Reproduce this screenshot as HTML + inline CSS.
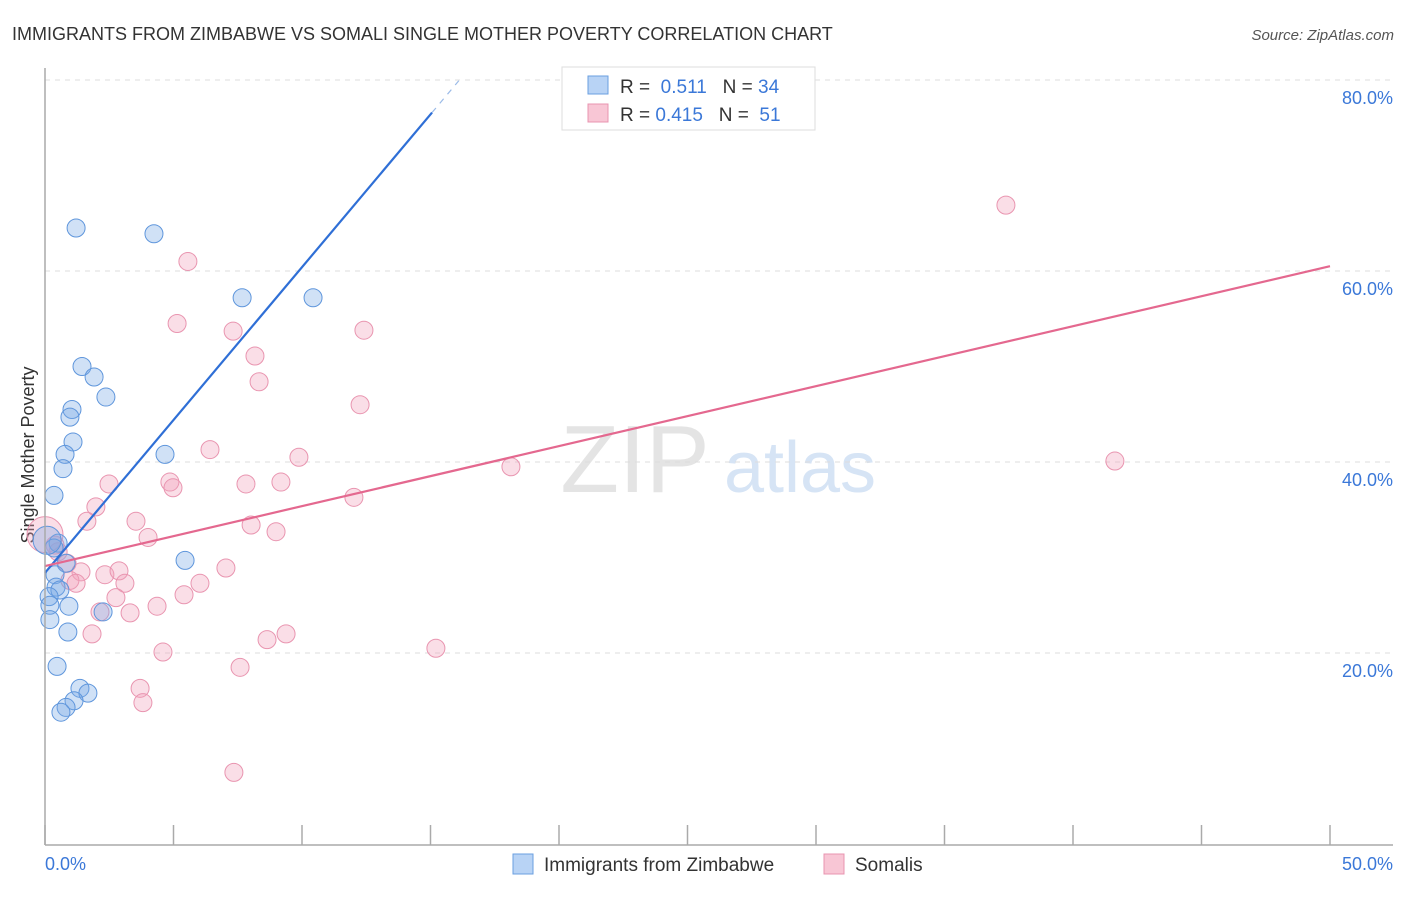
<!DOCTYPE html><html><head><meta charset="utf-8"><style>
body{margin:0;background:#fff;font-family:"Liberation Sans",sans-serif}
svg text{font-family:"Liberation Sans",sans-serif}
</style></head><body>
<svg id="c" width="1406" height="892" xmlns="http://www.w3.org/2000/svg">
<text x="12" y="40" font-size="18" fill="#333">IMMIGRANTS FROM ZIMBABWE VS SOMALI SINGLE MOTHER POVERTY CORRELATION CHART</text>
<text x="1394" y="40" font-size="15" fill="#555" text-anchor="end" font-style="italic">Source: ZipAtlas.com</text>
<text x="635" y="492" font-size="96" fill="#e4e4e4" font-family="Liberation Serif" text-anchor="middle">ZIP</text>
<text x="800" y="492" font-size="72" fill="#d6e4f5" text-anchor="middle">atlas</text>
<text transform="translate(34,455) rotate(-90)" font-size="18" fill="#333" text-anchor="middle">Single Mother Poverty</text>
<g id="grid"></g><g id="pts"></g><g id="lines"></g>
<line x1="45" y1="68" x2="45" y2="845" stroke="#aaa" stroke-width="1.5"/>
<line x1="45" y1="845" x2="1393" y2="845" stroke="#aaa" stroke-width="1.5"/>
<text x="45" y="870" font-size="18" fill="#3b78d8">0.0%</text>
<text x="1393" y="870" font-size="18" fill="#3b78d8" text-anchor="end">50.0%</text>
<g>
<rect x="562" y="67" width="253" height="63" fill="#fff" stroke="#ddd"/>
<rect x="588" y="76" width="20" height="18" fill="#b8d3f5" stroke="#6a9fe0"/>
<rect x="588" y="104" width="20" height="18" fill="#f8c6d5" stroke="#e894b0"/>
<text x="620" y="93" font-size="19" fill="#333">R = <tspan fill="#3b78d8">&#160;0.511</tspan>&#160;&#160;&#160;N = <tspan fill="#3b78d8">34</tspan></text>
<text x="620" y="121" font-size="19" fill="#333">R = <tspan fill="#3b78d8">0.415</tspan>&#160;&#160;&#160;N = <tspan fill="#3b78d8">&#160;51</tspan></text>
</g>
<g>
<rect x="513" y="854" width="20" height="20" fill="#b8d3f5" stroke="#6a9fe0"/>
<text x="544" y="871" font-size="19" fill="#333">Immigrants from Zimbabwe</text>
<rect x="824" y="854" width="20" height="20" fill="#f8c6d5" stroke="#e894b0"/>
<text x="855" y="871" font-size="19" fill="#333">Somalis</text>
</g>
</svg>
<script>
const yTicks=[20,40,60,80];
const yTickLabels=["20.0%","40.0%","60.0%","80.0%"];
const xTicks=[0,5,10,15,20,25,30,35,40,45,50];
const blueX=[1.21,4.24,7.67,10.43,1.44,1.91,2.37,1.05,0.97,1.09,0.78,0.70,0.35,4.67,0.51,0.35,0.82,0.39,5.45,0.43,0.58,0.16,0.19,0.93,0.19,2.26,0.89,0.47,1.36,1.67,1.13,0.82,0.62,0.08];
const blueY=[64.5,63.9,57.2,57.2,50.0,48.9,46.8,45.5,44.7,42.1,40.8,39.3,36.5,40.8,31.5,31.0,29.4,28.2,29.7,26.9,26.6,25.9,25.0,24.9,23.5,24.3,22.2,18.6,16.3,15.8,15.0,14.3,13.8,31.8];
const pinkX=[37.39,5.56,5.14,7.32,12.41,8.17,8.33,12.26,6.42,9.88,41.63,18.13,2.49,4.86,4.98,7.82,9.18,1.98,12.02,3.54,1.63,8.02,8.99,4.01,0.51,0.86,1.40,2.33,2.88,7.04,0.97,1.21,3.11,6.03,5.41,2.76,4.36,2.14,3.31,1.83,8.64,9.38,15.21,4.59,7.59,3.70,3.81,7.35,0.39,0.0];
const pinkY=[66.9,61.0,54.5,53.7,53.8,51.1,48.4,46.0,41.3,40.5,40.1,39.5,37.7,37.9,37.3,37.7,37.9,35.3,36.3,33.8,33.8,33.4,32.7,32.1,30.6,29.4,28.5,28.2,28.6,28.9,27.6,27.3,27.3,27.3,26.1,25.8,24.9,24.3,24.2,22.0,21.4,22.0,20.5,20.1,18.5,16.3,14.8,7.5,31.3,32.4];
const blueLine=[28.4,3.2]; // intercept, slope per %
const pinkLine=[29.1,0.628];
const X=v=>45+v*25.7, Y=v=>844-v*9.55;
const NS="http://www.w3.org/2000/svg";
function mk(t,a,p){const e=document.createElementNS(NS,t);for(const k in a)e.setAttribute(k,a[k]);p.appendChild(e);return e;}
const grid=document.getElementById('grid');
yTicks.forEach((v,i)=>{
  const l=mk('line',{x1:45,x2:1393,y1:Y(v),y2:Y(v),stroke:'#ddd','stroke-dasharray':'5,5'},grid);
  
  
  const t=mk('text',{x:1393,y:Y(v)+24,'font-size':18,fill:'#3b78d8','text-anchor':'end'},grid);
  t.textContent=yTickLabels[i];
  
  
});
xTicks.forEach(v=>{
  const l=mk('line',{x1:X(v),x2:X(v),y1:825,y2:845,stroke:'#aaa','stroke-width':1.5},grid);
  
  
});
const pts=document.getElementById('pts');
pinkX.forEach((x,i)=>{
  const r=i===pinkX.length-1?18:9;
  const c=mk('circle',{cx:X(x),cy:Y(pinkY[i]),r:r,fill:'rgba(242,160,186,0.35)',stroke:'#e995b0','stroke-width':1},pts);
  
  
});
blueX.forEach((x,i)=>{
  const r=i===blueX.length-1?14:9;
  const c=mk('circle',{cx:X(x),cy:Y(blueY[i]),r:r,fill:'rgba(120,168,230,0.35)',stroke:'#5f96dc','stroke-width':1},pts);
  
  
});
const lines=document.getElementById('lines');
const bEnd=15.06, bEnd2=16.1;
let l1=mk('line',{x1:X(0),y1:Y(blueLine[0]),x2:X(bEnd),y2:Y(blueLine[0]+blueLine[1]*bEnd),stroke:'#2f6fd6','stroke-width':2.2},lines);


let l2=mk('line',{x1:X(bEnd),y1:Y(blueLine[0]+blueLine[1]*bEnd),x2:X(bEnd2),y2:Y(blueLine[0]+blueLine[1]*bEnd2),stroke:'#9bbbe8','stroke-width':1.2,'stroke-dasharray':'6,6'},lines);


let l3=mk('line',{x1:X(0),y1:Y(pinkLine[0]),x2:X(50),y2:Y(pinkLine[0]+pinkLine[1]*50),stroke:'#e4688f','stroke-width':2.2},lines);


</script>
</body></html>
